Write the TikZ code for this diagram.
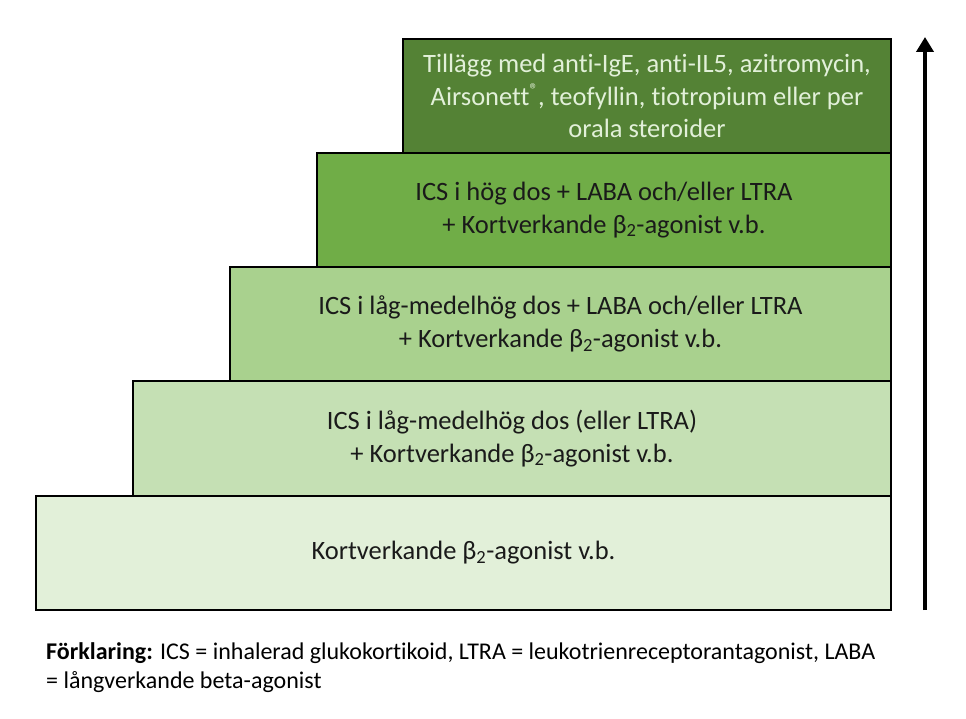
\documentclass[tikz,border=0pt]{standalone}
\usepackage{fontspec}
\setmainfont{Carlito}[Ligatures={NoCommon}]
\usetikzlibrary{arrows.meta}
\definecolor{gA}{HTML}{548235}
\definecolor{gB}{HTML}{70AD47}
\definecolor{gC}{HTML}{A9D18E}
\definecolor{gD}{HTML}{C5E0B4}
\definecolor{gE}{HTML}{E2F0D9}
\definecolor{txtdark}{HTML}{1A1A1A}
\begin{document}
\begin{tikzpicture}[x=1pt,y=-1pt,
  stepbox/.style={draw=black, line width=1.1pt, rectangle, inner sep=0pt, align=center,
     font=\fontsize{26.5}{32.5}\selectfont, text=txtdark},
  note/.style={align=left, anchor=base west, inner sep=0pt, font=\fontsize{24}{29}\selectfont}]
\useasboundingbox (0,0) rectangle (966,719);
\node[stepbox, fill=gE, minimum width=855pt, minimum height=114pt] (s1) at (463.5,553) {Kortverkande β\textsubscript{2}-agonist v.b.};
\node[stepbox, fill=gD, minimum width=758pt, minimum height=115pt] (s2) at (512,438.5) {ICS i låg-medelhög dos (eller LTRA)\\+ Kortverkande β\textsubscript{2}-agonist v.b.};
\node[stepbox, fill=gC, minimum width=661pt, minimum height=114pt] (s3) at (560.5,324) {ICS i låg-medelhög dos + LABA och/eller LTRA\\+ Kortverkande β\textsubscript{2}-agonist v.b.};
\node[stepbox, fill=gB, minimum width=574pt, minimum height=114pt] (s4) at (604,210) {ICS i hög dos + LABA och/eller LTRA\\+ Kortverkande β\textsubscript{2}-agonist v.b.};
\node[stepbox, fill=gA, minimum width=488pt, minimum height=114pt, text=gE] (s5) at (647,96) {Tillägg med anti-IgE, anti-IL5, azitromycin,\\Airsonett\raisebox{0.35em}{\fontsize{17}{17}\selectfont ®}, teofyllin, tiotropium eller per\\orala steroider};
\coordinate (abot) at (925,610);
\coordinate (atop) at (925,37);
\draw[line width=4.5pt, -{Triangle[width=17pt,length=15pt]}] (abot) -- (atop);
\node[note] (n) at (46,688) {\textbf{Förklaring:} ICS = inhalerad glukokortikoid, LTRA = leukotrienreceptorantagonist, LABA\\= långverkande beta-agonist};
\end{tikzpicture}
\end{document}
